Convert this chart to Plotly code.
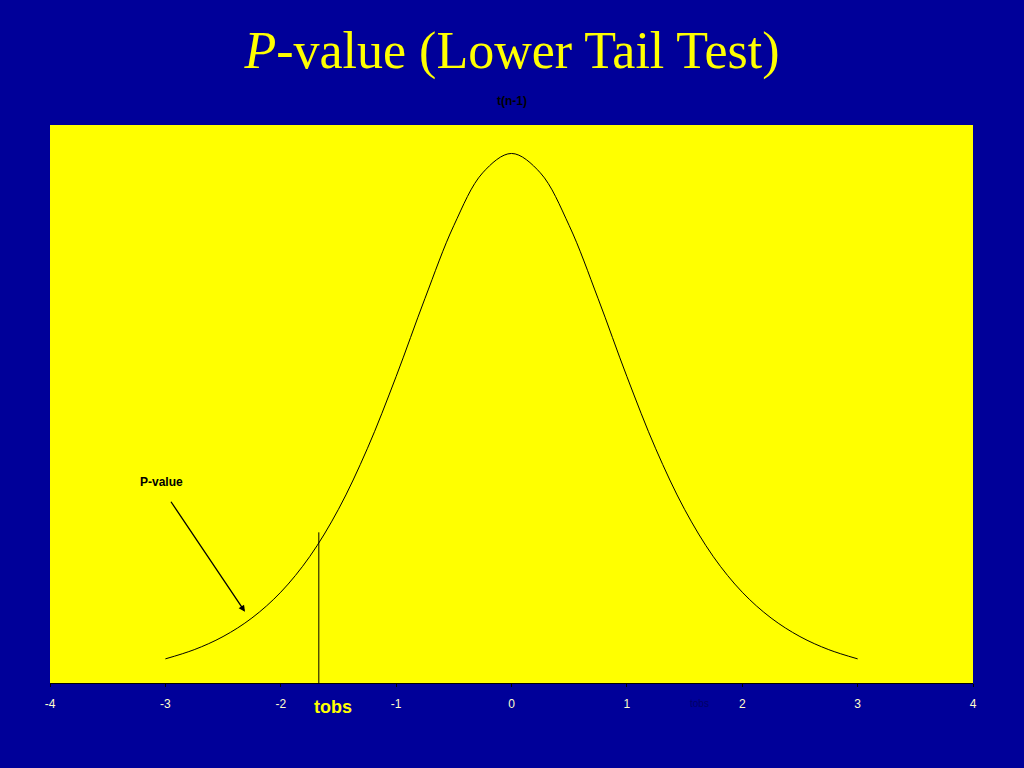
import plotly.graph_objects as go

# t-density-like curve
x_vals = [-3.0, -2.75, -2.5, -2.25, -2.0, -1.75, -1.5, -1.25, -1.0, -0.75, -0.5, -0.25,
          0.0, 0.25, 0.5, 0.75, 1.0, 1.25, 1.5, 1.75, 2.0, 2.25, 2.5, 2.75, 3.0]
y_vals = [0.0173, 0.0239, 0.0333, 0.0466, 0.0651, 0.0905, 0.1245, 0.1679, 0.2197, 0.2757, 0.3279, 0.3657,
          0.3796, 0.3657, 0.3279, 0.2757, 0.2197, 0.1679, 0.1245, 0.0905, 0.0651, 0.0466, 0.0333, 0.0239, 0.0173]
tick_vals = [-4, -3, -2, -1, 0, 1, 2, 3, 4]
tick_text = ["-4", "-3", "-2", "-1", "0", "1", "2", "3", "4"]
tobs = -1.67
tobs_line_top = 0.108
small_tobs_x = 1.63

BG = "#000099"
YEL = "#FFFF00"

fig = go.Figure()
fig.add_trace(go.Scatter(x=x_vals, y=y_vals, mode="lines", line=dict(color="black", width=1, shape="spline"),
                         hoverinfo="skip", showlegend=False))
fig.add_trace(go.Scatter(x=[tobs, tobs], y=[0, tobs_line_top], mode="lines", line=dict(color="black", width=1),
                         hoverinfo="skip", showlegend=False))

fig.add_annotation(x=-2.31, y=0.051, ax=-2.96, ay=0.131, xref="x", yref="y", axref="x", ayref="y",
                   showarrow=True, arrowhead=2, arrowsize=1, arrowwidth=1.3, arrowcolor="black", text="")
fig.add_annotation(x=-3.03, y=0.144, xref="x", yref="y", text="<b>P-value</b>", showarrow=False,
                   font=dict(family="Liberation Sans, Arial", size=12, color="black"))
fig.add_annotation(x=tobs + 0.12, y=-0.043, xref="x", yref="paper", yanchor="middle", text="<b>tobs</b>",
                   showarrow=False, font=dict(family="Liberation Sans, Arial", size=18, color=YEL))
fig.add_annotation(x=small_tobs_x, y=-0.036, xref="x", yref="paper", yanchor="middle", text="tobs",
                   showarrow=False, font=dict(family="Liberation Sans, Arial", size=10, color="#000066"))
fig.add_annotation(x=0, y=1.043, xref="x", yref="paper", yanchor="middle", text="<b>t(n-1)</b>",
                   showarrow=False, font=dict(family="Liberation Sans, Arial", size=12, color="black"))

fig.update_layout(
    width=1024, height=768,
    paper_bgcolor=BG, plot_bgcolor=YEL,
    margin=dict(l=50, r=51, t=125, b=85),
    title=dict(text="<i>P</i>-value (Lower Tail Test)", x=0.5, xanchor="center", y=0.935, yanchor="middle",
               font=dict(family="Liberation Serif, Times New Roman", size=52, color=YEL)),
    xaxis=dict(range=[-4, 4], tickvals=tick_vals, ticktext=tick_text, showgrid=False, zeroline=False,
               showline=True, linecolor="black", linewidth=1, ticks="outside", ticklen=3, tickcolor="black",
               ticklabelstandoff=7,
               tickfont=dict(family="Liberation Sans, Arial", size=12, color="#FFFFCC")),
    yaxis=dict(range=[0, 0.4], showgrid=False, zeroline=False, showticklabels=False, showline=False),
)
fig.write_html("out.html", config={"displayModeBar": False},
               post_script="document.body.style.margin='0';document.body.style.background='#000099';")
